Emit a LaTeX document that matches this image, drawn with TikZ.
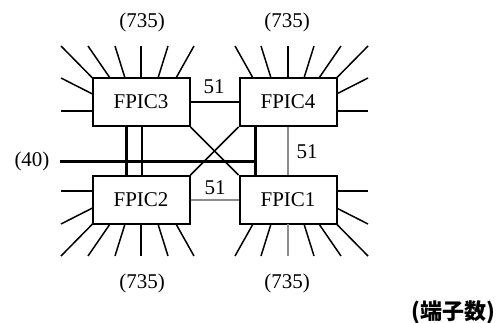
\documentclass[tikz,border=0pt]{standalone}
\usepackage{fontspec}
\setmainfont{Liberation Serif}
\newfontfamily\jpfont{Noto Sans CJK JP}
\usepackage{tikz}
\usetikzlibrary{calc,positioning}

\begin{document}
\begin{tikzpicture}[x=0.5pt, y=-0.5pt,
    chip/.style={draw, line width=1pt, minimum width=48.5pt, minimum height=24pt,
                 inner sep=0pt, font=\fontsize{10.5}{12}\selectfont},
    pin/.style={line width=0.75pt},
    link/.style={line width=0.75pt},
    graylink/.style={line width=0.9pt, linkgray},
    bus/.style={line width=1.5pt},
    lbl/.style={font=\fontsize{10.5}{12}\selectfont, inner sep=1pt}]
    % Define colors
    \definecolor{linkgray}{RGB}{140,140,140}

    \useasboundingbox (0,0) rectangle (501,322);

    % The four FPIC chips
    \node[chip] (f3) at (141,102) {FPIC3};
    \node[chip] (f4) at (288,102) {FPIC4};
    \node[chip] (f2) at (141,200) {FPIC2};
    \node[chip] (f1) at (288,200) {FPIC1};

    % Terminal pins, mirrored for each chip
    \foreach \ic/\sx/\sy/\pc in {f3/1/1/black, f4/-1/1/black, f2/1/-1/black, f1/-1/-1/linkgray} {
        \foreach \p/\q in {-48.5/-80, -31/-53, -16/-26, 17/27, 35/53}
            \draw[pin] ($(\ic)+({\sx*\p},{\sy*(-24)})$) -- ($(\ic)+({\sx*\q},{\sy*(-56)})$);
        \draw[pin, \pc] ($(\ic)+(0,{\sy*(-24)})$) -- ($(\ic)+(0,{\sy*(-56)})$);
        \foreach \p/\q in {-8/-24, 9/9}
            \draw[pin] ($(\ic)+({\sx*(-48.5)},{\sy*\p})$) -- ($(\ic)+({\sx*(-80)},{\sy*\q})$);
    }

    % Links between chips
    \draw[link] (f3) -- (f4);
    \draw[graylink] (f4) -- (f1);
    \draw[graylink] (f2) -- (f1);
    \draw[link] (f3.south east) -- (f1.north west);
    \draw[link] (f4.south west) -- (f2.north east);

    % Vertical bus lines
    \draw[bus] ([xshift=-7.5pt]f3.south) -- ([xshift=-7.5pt]f2.north);
    \draw[link] ([xshift=0.5pt]f3.south) -- ([xshift=0.5pt]f2.north);
    \coordinate (tap) at ([xshift=-16.5pt]f4.south);
    \draw[bus] (tap) -- ([xshift=-16.5pt]f1.north);

    % External bus
    \node[lbl] (l40) at (32,161) {(40)};
    \draw[bus] ([xshift=4pt]l40.east) -- (tap |- l40);

    % Link widths
    \node[lbl] (w34) at (214,87) {51};
    \node[lbl] (w41) at (307,152) {51};
    \node[lbl] (w21) at (215,188) {51};

    % Terminal counts
    \node[lbl] (t3) at (142,22) {(735)};
    \node[lbl] (t4) at (287,22) {(735)};
    \node[lbl] (t2) at (142,283) {(735)};
    \node[lbl] (t1) at (287,283) {(735)};
    \node[font=\jpfont\bfseries\fontsize{11}{13}\selectfont] (unit) at (453,312) {(端子数)};
\end{tikzpicture}
\end{document}
